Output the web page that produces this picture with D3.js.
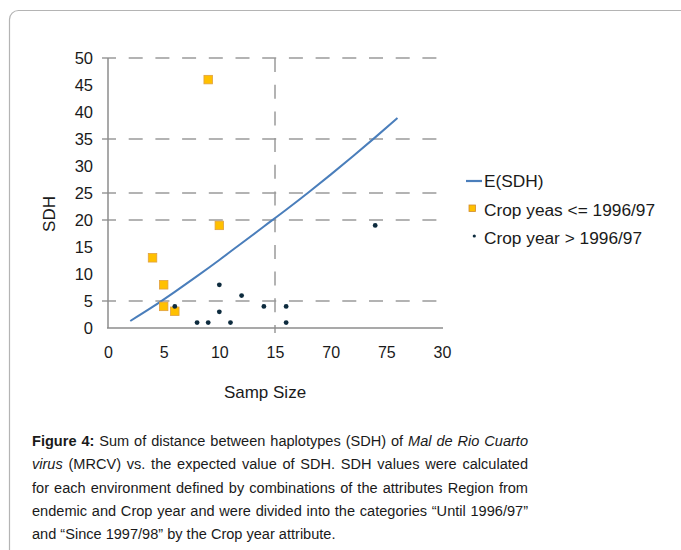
<!DOCTYPE html>
<html><head><meta charset="utf-8">
<script src="https://cdn.jsdelivr.net/npm/d3@7"></script>
<style>
body{margin:0;background:#fff}
svg{display:block;font-family:"Liberation Sans",Arial,Helvetica,sans-serif}
</style>
</head><body>
<svg id="c" width="681" height="550"></svg>
<script>
// ---- data ----
const xTickValues = [0, 5, 10, 15, 20, 25, 30];
const xTickLabels = ["0", "5", "10", "15", "70", "75", "30"];
const yTickValues = [0, 5, 10, 15, 20, 25, 30, 35, 40, 45, 50];
const yTickLabels = ["0", "5", "10", "15", "20", "25", "30", "35", "40", "45", "50"];
const yGridValues = [5, 20, 25, 35, 50];
const xGridValues = [15];

const expX = [2, 4, 6, 8, 10, 12, 14, 16, 18, 20, 22, 24, 26];
const expY = [1.3, 3.9, 6.7, 9.6, 12.6, 15.7, 18.8, 21.9, 25.1, 28.4, 31.8, 35.3, 38.9];

const earlyX = [9, 10, 4, 5, 5, 6];
const earlyY = [46, 19, 13, 8, 4, 3.1];

const lateX = [6, 8, 9, 10, 10, 11, 12, 14, 16, 16, 24];
const lateY = [4, 1, 1, 8, 3, 1, 6, 4, 4, 1, 19];

const legendLabels = ["E(SDH)", "Crop yeas <= 1996/97", "Crop year > 1996/97"];
const xTitle = "Samp Size";
const yTitle = "SDH";

// ---- drawing ----
const svg = d3.select("#c");
const x = d3.scaleLinear().domain([0, 30]).range([108, 442]);
const y = d3.scaleLinear().domain([0, 50]).range([328, 58]);

// frame
svg.append("rect").attr("x", 9.5).attr("y", 10.5).attr("width", 720).attr("height", 620)
  .attr("rx", 9).attr("fill", "none").attr("stroke", "#b4b4b4").attr("stroke-width", 1.2);

const gridCol = "#9a9a9a";
// horizontal gridlines
svg.append("g").selectAll("line").data(yGridValues).join("line")
  .attr("x1", x(0) - 6).attr("x2", x(30))
  .attr("y1", d => y(d)).attr("y2", d => y(d))
  .attr("stroke", gridCol).attr("stroke-width", 1.5).attr("stroke-dasharray", "14,12.7");
// vertical gridline
svg.append("g").selectAll("line").data(xGridValues).join("line")
  .attr("x1", d => x(d)).attr("x2", d => x(d))
  .attr("y1", y(50)).attr("y2", y(0) + 5)
  .attr("stroke", gridCol).attr("stroke-width", 1.5).attr("stroke-dasharray", "14,12.7");

// axes
const xAxis = d3.axisBottom(x).tickValues(xTickValues)
  .tickFormat((d, i) => xTickLabels[i]).tickSize(0).tickPadding(19);
const gx = svg.append("g").attr("transform", `translate(0,${y(0)})`).call(xAxis);
gx.select(".domain").attr("stroke", "#8c8c8c").attr("stroke-width", 1.5).attr("d", `M${x(0)-1},0H${x(30)+1}`);
gx.selectAll("text").attr("font-size", 16).attr("fill", "#1a1a1a").attr("font-family", null);

const yAxis = d3.axisLeft(y).tickValues(yTickValues)
  .tickFormat((d, i) => yTickLabels[i]).tickSize(0).tickPadding(15);
const gy = svg.append("g").attr("transform", `translate(${x(0)},0)`).call(yAxis);
gy.select(".domain").attr("stroke", "#8c8c8c").attr("stroke-width", 1.5).attr("d", `M0,${y(50)}V${y(0)}`);
gy.selectAll("text").attr("font-size", 16.5).attr("fill", "#1a1a1a").attr("font-family", null);

// expected curve
const line = d3.line().x(d => x(d[0])).y(d => y(d[1])).curve(d3.curveMonotoneX);
svg.append("path").datum(expX.map((v, i) => [v, expY[i]]))
  .attr("d", line).attr("fill", "none").attr("stroke", "#4a7ebb").attr("stroke-width", 2);

// early crop years squares
const sq = 8.5;
svg.append("g").selectAll("rect").data(earlyX.map((v, i) => [v, earlyY[i]])).join("rect")
  .attr("x", d => x(d[0]) - sq / 2).attr("y", d => y(d[1]) - sq / 2)
  .attr("width", sq).attr("height", sq)
  .attr("fill", "#ffc000").attr("stroke", "#e0a040").attr("stroke-width", 0.8);

// late crop years dots
svg.append("g").selectAll("circle").data(lateX.map((v, i) => [v, lateY[i]])).join("circle")
  .attr("cx", d => x(d[0])).attr("cy", d => y(d[1])).attr("r", 2.4)
  .attr("fill", "#0d2b3e");

// legend
const lg = svg.append("g");
lg.append("line").attr("x1", 466).attr("x2", 482).attr("y1", 181).attr("y2", 181)
  .attr("stroke", "#4a7ebb").attr("stroke-width", 2.2);
lg.append("rect").attr("x", 469).attr("y", 205).attr("width", 6.5).attr("height", 6.5)
  .attr("fill", "#ffc000").attr("stroke", "#d08a30").attr("stroke-width", 0.8);
lg.append("circle").attr("cx", 474.3).attr("cy", 236).attr("r", 1.6).attr("fill", "#0d2b3e");
const legY = [187, 215.5, 244];
lg.selectAll("text").data(legendLabels).join("text")
  .attr("x", 484).attr("y", (d, i) => legY[i]).attr("font-size", 17.3).attr("fill", "#1a1a1a")
  .text(d => d);

// axis titles
svg.append("text").attr("x", 265).attr("y", 398).attr("text-anchor", "middle")
  .attr("font-size", 17).attr("fill", "#1a1a1a").text(xTitle);
svg.append("text").attr("transform", "translate(55,214) rotate(-90)").attr("text-anchor", "middle")
  .attr("font-size", 17).attr("fill", "#1a1a1a").text(yTitle);

// caption
const captionLines = [
  [["b", "Figure 4:"], ["n", " Sum of distance between haplotypes (SDH) of "], ["i", "Mal de Rio Cuarto"]],
  [["i", "virus"], ["n", " (MRCV) vs. the expected value of SDH. SDH values were calculated"]],
  [["n", "for each environment defined by combinations of the attributes Region from"]],
  [["n", "endemic and Crop year and were divided into the categories \u201cUntil 1996/97\u201d"]],
  [["n", "and \u201cSince 1997/98\u201d by the Crop year attribute."]]
];
const capBase = [446, 469.3, 492.6, 515.9, 539.2];
const sx = 0.94, capLeft = 32, capWidth = 496;
const cg = svg.append("g").attr("transform", `translate(${capLeft},0) scale(${sx},1)`);
captionLines.forEach((segs, li) => {
  const t = cg.append("text").attr("x", 0).attr("y", capBase[li]).attr("font-size", 15.5).attr("fill", "#1a1a1a");
  segs.forEach(([s, txt]) => {
    const ts = t.append("tspan").text(txt);
    if (s === "b") ts.attr("font-weight", "bold");
    if (s === "i") ts.attr("font-style", "italic");
  });
  if (li < captionLines.length - 1) {
    const nat = t.node().getComputedTextLength();
    const spaces = segs.map(s => s[1]).join("").split(" ").length - 1;
    const target = capWidth / sx;
    t.attr("word-spacing", (target - nat) / spaces);
  }
});
</script>
</body></html>
